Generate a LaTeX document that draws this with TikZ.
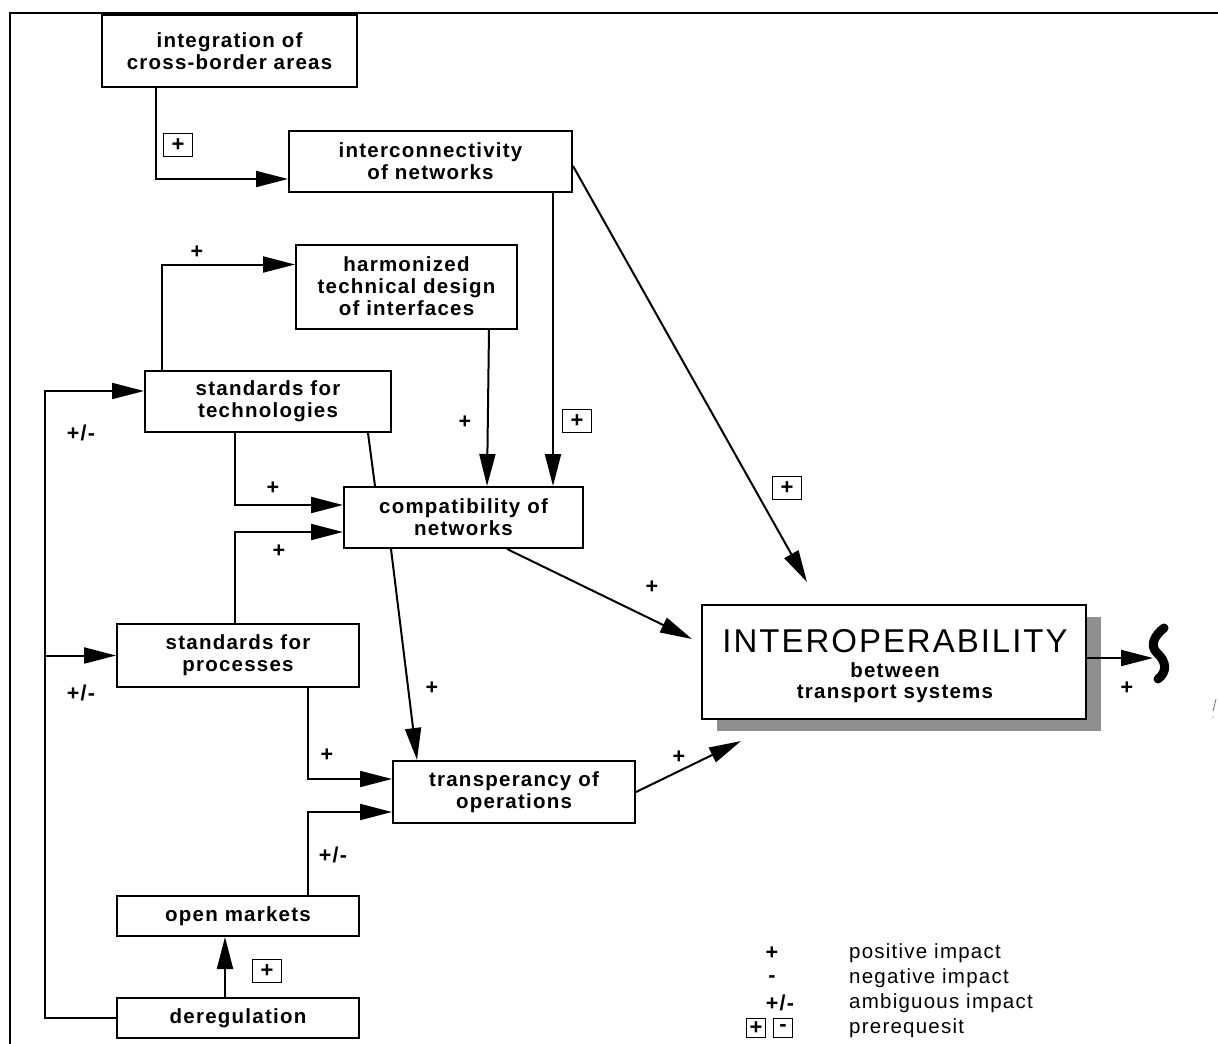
\documentclass[tikz,border=0pt]{standalone}
\usepackage{fontspec}
\setmainfont{Liberation Sans}
\newfontfamily\wide[LetterSpace=6]{Liberation Sans}
\usetikzlibrary{arrows.meta,calc,shadows}
\definecolor{shadowgray}{RGB}{143,143,143}
\begin{document}
\begin{tikzpicture}[x=1pt,y=-1pt,
  box/.style={draw, line width=2pt, fill=white, inner sep=0pt, align=center,
    font=\wide\bfseries\fontsize{20.5}{22}\selectfont},
  arr/.style={line width=2pt, -{Triangle[length=32pt,width=16pt]}},
  ln/.style={line width=2pt},
  sgn/.style={inner sep=0pt, font=\wide\bfseries\fontsize{21.5}{22}\selectfont},
  pre/.style={draw, line width=1.8pt, minimum width=29pt, minimum height=23pt,
    inner sep=0pt, font=\bfseries\fontsize{22}{22}\selectfont},
  legpre/.style={pre, minimum width=19pt, minimum height=19pt},
  legtext/.style={anchor=west, inner sep=0pt, font=\wide\fontsize{20.5}{22}\selectfont},
  intext/.style={anchor=base, inner sep=0pt, font=\wide\bfseries\fontsize{20.5}{22}\selectfont},
]
\useasboundingbox (0,0) rectangle (1218,1044);

% outer frame (top and left edges only)
\draw[ln] (10,1044) -- (10,13) -- (1218,13);

% boxes
\node[box, minimum width=255, minimum height=72] (integ) at (229.5,51) {integration of\\cross-border areas};
\node[box, minimum width=283, minimum height=61] (interconn) at (430.5,161.5) {interconnectivity\\of networks};
\node[box, minimum width=221, minimum height=84] (harm) at (406.5,286.5) {harmonized\\technical design\\of interfaces};
\node[box, minimum width=246, minimum height=61] (stdtech) at (268,401.5) {standards for\\technologies};
\node[box, minimum width=239, minimum height=61] (compat) at (463.5,517.5) {compatibility of\\networks};
\node[box, minimum width=242, minimum height=63] (stdproc) at (238,655.5) {standards for\\processes};
\node[box, minimum width=242, minimum height=62] (transp) at (514,792) {transperancy of\\operations};
\node[box, minimum width=242, minimum height=40] (open) at (238,916) {open markets};
\node[box, minimum width=242, minimum height=40] (dereg) at (238,1018) {deregulation};
\node[box, minimum width=384, minimum height=114,
  general shadow={fill=shadowgray, shadow xshift=15pt, shadow yshift=-12pt}]
  (interop) at (894,662) {};
\node[intext, font=\wide\fontsize{33}{33}\selectfont] (interop1) at ($(interop.center)+(1,-10)$) {INTEROPERABILITY};
\node[intext] (interop2) at ($(interop.center)+(1,15)$) {between};
\node[intext] (interop3) at ($(interop.center)+(1,36)$) {transport systems};

% connectors
\draw[arr] ($(integ.south west)+(55,0)$) |- ($(interconn.south west)+(0,-14)$);
\draw[arr] ($(interconn.south east)+(-20,0)$) -- ($(compat.north east)+(-31,0)$);
\draw[arr] ($(interconn.north east)+(0,36)$) -- ($(interop.north west)+(106,-22)$);
\draw[arr] ($(stdtech.north west)+(18,0)$) |- ($(harm.north west)+(0,21)$);
\draw[arr] ($(harm.south east)+(-29,0)$) -- ($(compat.north west)+(144,0)$);
\draw[arr] ($(stdtech.south west)+(91,0)$) |- ($(compat.north west)+(0,19)$);
\draw[ln] ($(stdtech.south east)+(-24,0)$) -- ($(compat.north west)+(32,0)$);
\draw[arr] ($(stdproc.north west)+(119,0)$) |- ($(compat.north west)+(0,46)$);
\draw[arr] ($(compat.south west)+(48,0)$) -- ($(transp.north west)+(25,0)$);
\draw[arr] ($(compat.south west)+(164,0)$) -- ($(interop.north west)+(-9,35)$);
\draw[arr] ($(stdproc.south west)+(192,0)$) |- ($(transp.north west)+(0,19)$);
\draw[arr] ($(open.north west)+(192,0)$) |- ($(transp.north west)+(0,52)$);
\draw[arr] (transp.east) -- ($(interop.south west)+(40,21)$);
\draw[arr] ($(dereg.north west)+(109,0)$) -- ($(open.south west)+(109,0)$);
\draw[arr] (dereg.west) -| ($(stdtech.north west)+(-99,21)$) -- ($(stdtech.north west)+(0,21)$);
\draw[arr] ($(stdproc.west)+(-71,0)$) -- (stdproc.west);
\draw[arr] ($(interop.east)+(0,-4)$) -- ++(66,0) coordinate (sq);

% squiggle at the end of the output arrow
\draw[line width=9pt, line cap=round]
  ($(sq)+(11,-30)$) .. controls ($(sq)+(2,-23)$) and ($(sq)+(-4,-13)$) .. ($(sq)+(4,-5)$)
  .. controls ($(sq)+(14,4)$) and ($(sq)+(14,14)$) .. ($(sq)+(5,21)$);

% small stray mark at the right edge
\draw[line width=0.7pt, black!60] (1216,699) -- (1213,711);
\fill[black!60] (1213,717) circle (0.7);

% impact labels
\node[sgn] (s1) at (197,252) {+};
\node[sgn] (s2) at (465,422) {+};
\node[sgn] (s3) at (273,488) {+};
\node[sgn] (s4) at (279,551) {+};
\node[sgn] (s5) at (81,433) {+/-};
\node[sgn] (s6) at (81,693) {+/-};
\node[sgn] (s7) at (652,587) {+};
\node[sgn] (s8) at (432,688) {+};
\node[sgn] (s9) at (327,755) {+};
\node[sgn] (s10) at (333,855) {+/-};
\node[sgn] (s11) at (679,757) {+};
\node[sgn] (s12) at (1127,688) {+};

% prerequisite labels
\node[pre] (p1) at (178,145) {+};
\node[pre] (p2) at (577,421) {+};
\node[pre] (p3) at (787,488) {+};
\node[pre] (p4) at (267,971) {+};

% legend
\node[sgn] (l1) at (772,953) {+};
\node[sgn] (l2) at (772,979) {-};
\node[sgn] (l3) at (780,1003) {+/-};
\node[legpre] (l4) at (756,1028) {+};
\node[legpre] (l5) at (783,1028) {-};
\node[legtext] (t1) at (849,953) {positive impact};
\node[legtext] (t2) at (849,978) {negative impact};
\node[legtext] (t3) at (849,1003) {ambiguous impact};
\node[legtext] (t4) at (849,1028) {prerequesit};
\end{tikzpicture}
\end{document}
